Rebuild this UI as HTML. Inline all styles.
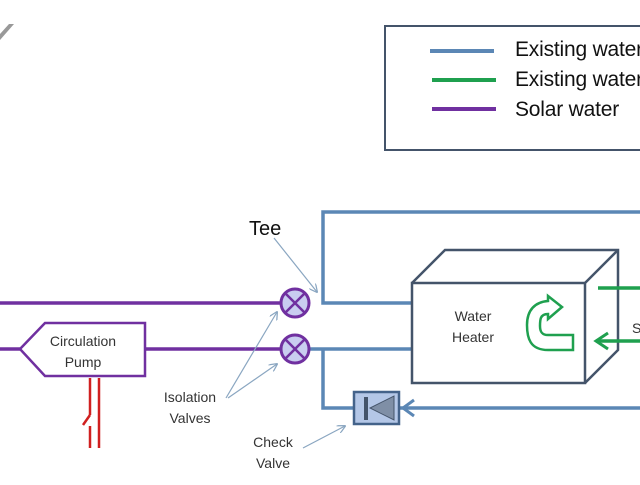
<!DOCTYPE html>
<html><head><style>html,body{margin:0;padding:0;background:#fff;overflow:hidden}</style></head><body>
<svg width="640" height="480" viewBox="0 0 640 480" xmlns="http://www.w3.org/2000/svg" font-family="Liberation Sans, sans-serif">
<defs>
<marker id="a" viewBox="0 0 10 10" refX="9" refY="5" markerWidth="7" markerHeight="7" orient="auto"><path d="M0,0 L10,5 L0,10" fill="none" stroke="#8aa6c1" stroke-width="1.5"/></marker>
</defs>
<path d="M0,40 L14,24 L9,24 L0,34Z" fill="#999"/>
<rect x="385" y="26" width="270" height="124" fill="#fff" stroke="#44546a" stroke-width="2"/>
<line x1="430" y1="51" x2="494" y2="51" stroke="#5b87b5" stroke-width="4"/>
<line x1="432" y1="80" x2="496" y2="80" stroke="#1fa04f" stroke-width="4"/>
<line x1="432" y1="109" x2="496" y2="109" stroke="#7030a0" stroke-width="4"/>
<g font-size="21" fill="#111" letter-spacing="-0.2"><text x="515" y="56">Existing water</text><text x="515" y="86">Existing water</text><text x="515" y="116">Solar water</text></g>
<g stroke="#5b87b5" stroke-width="3.5" fill="none">
<polyline points="640,212 323,212 323,303 412,303"/>
<polyline points="310,349 412,349"/>
<polyline points="323,349 323,408 354,408"/>
<line x1="400" y1="408" x2="640" y2="408"/>
<polyline points="414,400 403,408 414,416" stroke-width="3"/>
</g>
<rect x="354" y="392" width="45" height="32" fill="#b4c7e7" stroke="#44638a" stroke-width="2.5"/>
<line x1="366" y1="397" x2="366" y2="420" stroke="#44546a" stroke-width="4"/>
<path d="M394,396 L394,420 L370,408Z" fill="#7f8fa6" stroke="#44546a" stroke-width="1"/>
<g stroke="#7030a0" stroke-width="3.5" fill="none">
<line x1="0" y1="303" x2="281" y2="303"/>
<line x1="0" y1="349" x2="20" y2="349"/>
<line x1="145" y1="349" x2="281" y2="349"/>
<path d="M20,349 L45,323 L145,323 L145,376 L45,376Z" fill="#fff" stroke-width="2.5"/>
<g stroke-width="3" fill="#c9cdf0"><circle cx="295" cy="303" r="14"/><circle cx="295" cy="349" r="14"/></g>
<path d="M285,293 L305,313 M305,293 L285,313 M285,339 L305,359 M305,339 L285,359" stroke-width="2.5"/>
</g>
<text x="83" y="346" font-size="14" text-anchor="middle" fill="#333">Circulation</text>
<text x="83" y="367" font-size="14" text-anchor="middle" fill="#333">Pump</text>
<g stroke="#d02020" stroke-width="2.5" fill="none"><line x1="99" y1="378" x2="99" y2="448"/><line x1="90" y1="378" x2="90" y2="415"/><line x1="90" y1="426" x2="90" y2="448"/><line x1="90" y1="415" x2="83" y2="425"/></g>
<g stroke="#44546a" stroke-width="2.5" fill="#fff">
<path d="M412,283 L445,250 L618,250 L618,350 L585,383"/>
<line x1="585" y1="283" x2="618" y2="250"/>
<rect x="412" y="283" width="173" height="100"/>
</g>
<text x="473" y="321" font-size="14" text-anchor="middle" fill="#333">Water</text>
<text x="473" y="342" font-size="14" text-anchor="middle" fill="#333">Heater</text>
<path d="M573,335 L573,350 L548,350 C530,350 527,338 527,325 C527,310 535,302 548,301 L548,296 L562,307 L548,319 L548,314 C540,314 540,320 540,326 C540,332 542,335 548,335Z" fill="#fff" stroke="#1fa04f" stroke-width="2.5"/>
<g stroke="#1fa04f" stroke-width="3.5" fill="none"><line x1="598" y1="288" x2="640" y2="288"/><line x1="596" y1="341" x2="640" y2="341"/><polyline points="608,333 596,341 608,349" stroke-width="3"/></g>
<text x="632" y="333" font-size="14" fill="#333">S</text>
<text x="249" y="235" font-size="20" fill="#111">Tee</text>
<g stroke="#8aa6c1" stroke-width="1.2" fill="none" marker-end="url(#a)">
<line x1="274" y1="238" x2="317" y2="292"/>
<line x1="226" y1="398" x2="277" y2="312"/>
<line x1="228" y1="398" x2="277" y2="364"/>
<line x1="303" y1="448" x2="345" y2="426"/>
</g>
<g font-size="14" fill="#333" text-anchor="middle"><text x="190" y="402">Isolation</text><text x="190" y="423">Valves</text><text x="273" y="447">Check</text><text x="273" y="468">Valve</text></g>
</svg>
</body></html>
